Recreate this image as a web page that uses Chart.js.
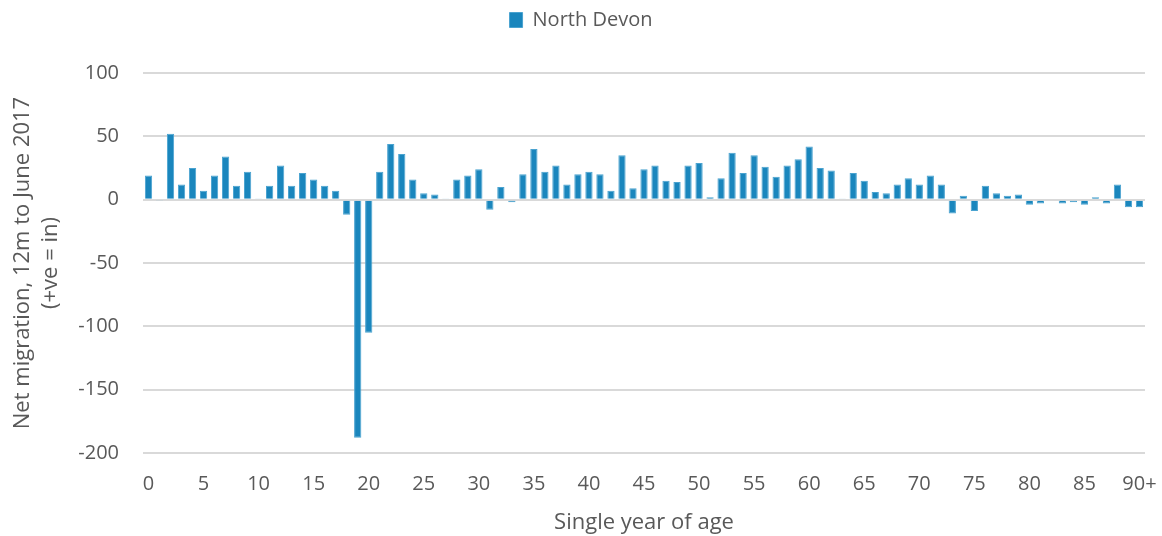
<!DOCTYPE html>
<html>
<head>
<meta charset="utf-8">
<script src="https://cdn.jsdelivr.net/npm/chart.js@4/dist/chart.umd.min.js"></script>
<style>
    html, body { margin: 0; padding: 0; background: #fff; overflow: hidden; }
</style>
</head>
<body>
<canvas id="migration-chart" width="1162" height="536"></canvas>
<script>
const ages = [];
for (let i = 0; i < 90; i++) ages.push(String(i));
ages.push('90+');

const netMigration = [
    19, -1, 52, 12, 25, 7, 19, 34, 11, 22,
    1, 11, 27, 11, 21, 16, 11, 7, -12, -188,
    -105, 22, 44, 36, 16, 5, 4, 0.5, 16, 19,
    24, -8, 10, -2, 20, 40, 22, 27, 12, 20,
    22, 20, 7, 35, 9, 24, 27, 15, 14, 27,
    29, 2, 17, 37, 21, 35, 26, 18, 27, 32,
    42, 25, 23, 0.5, 21, 15, 6, 5, 12, 17,
    12, 19, 12, -11, 3, -9, 11, 5, 3, 4,
    -4, -3, 0, -3, -2, -4, 2, -3, 12, -6,
    -6
];

const seriesName = 'North Devon';
const yTitle = ['Net migration, 12m to June 2017', '(+ve = in)'];
const xTitle = 'Single year of age';

const fontFamily = '"Open Sans", "Liberation Sans", sans-serif';
const textColor = '#595959';

// push the plot down so the 100 gridline sits where the reference has it
const legendHeight = {
    id: 'legendHeight',
    beforeInit(chart) {
        const origFit = chart.legend.fit;
        chart.legend.fit = function () {
            origFit.bind(chart.legend)();
            this.height = 73;
        };
    }
};

new Chart(document.getElementById('migration-chart'), {
    type: 'bar',
    data: {
        labels: ages,
        datasets: [{
            label: seriesName,
            data: netMigration,
            backgroundColor: '#1a86bd',
            borderColor: '#4aa3d0',
            borderWidth: 1,
            barPercentage: 0.66,
            categoryPercentage: 1.0
        }]
    },
    options: {
        responsive: false,
        animation: false,
        layout: { padding: { left: 0, right: 0, top: 0, bottom: 0 } },
        plugins: {
            legend: {
                position: 'top',
                align: 'center',
                labels: {
                    boxWidth: 13,
                    boxHeight: 15,
                    padding: 10,
                    color: textColor,
                    font: { family: fontFamily, size: 20 }
                }
            },
            tooltip: { enabled: false }
        },
        scales: {
            x: {
                grid: { display: false, drawTicks: false },
                border: { display: false },
                ticks: {
                    autoSkip: false,
                    maxRotation: 0,
                    padding: 19,
                    color: textColor,
                    font: { family: fontFamily, size: 20 },
                    callback: function (value, index) {
                        return index % 5 === 0 ? this.getLabelForValue(value) : '';
                    }
                },
                title: {
                    display: true,
                    text: xTitle,
                    color: textColor,
                    padding: { top: 6, bottom: 0 },
                    font: { family: fontFamily, size: 22 }
                },
                afterFit: function (scale) {
                    scale.height = 83;
                    scale.paddingLeft = 0;
                    scale.paddingRight = 17;
                }
            },
            y: {
                min: -200,
                max: 100,
                grid: { color: '#d9d9d9', lineWidth: 2, drawTicks: false },
                border: { display: false },
                ticks: {
                    stepSize: 50,
                    padding: 24,
                    color: textColor,
                    font: { family: fontFamily, size: 20 }
                },
                title: {
                    display: true,
                    text: yTitle,
                    color: textColor,
                    padding: { top: 8, bottom: 8 },
                    font: { family: fontFamily, size: 22, lineHeight: 1.3 }
                },
                afterFit: function (scale) { scale.width = 143; }
            }
        }
    },
    plugins: [legendHeight]
});
</script>
</body>
</html>
